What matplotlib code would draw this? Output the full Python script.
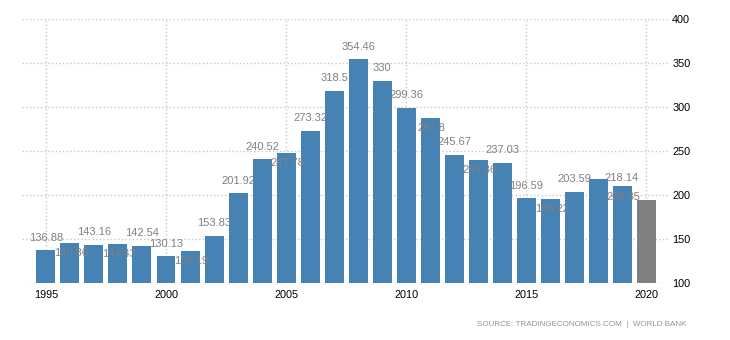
import numpy as np
import matplotlib.pyplot as plt

plt.rcParams['font.family'] = ['Liberation Sans', 'DejaVu Sans']

years = list(range(1995, 2021))
values = [136.88, 145.86, 143.16, 144.43, 142.54, 130.13, 136.19, 153.83,
          201.92, 240.52, 247.78, 273.32, 318.5, 354.46, 330, 299.36, 287.8,
          245.67, 239.86, 237.03, 196.59, 195.22, 203.59, 218.14, 209.85, 193.8]
labels = ["136.88", "145.86", "143.16", "144.43", "142.54", "130.13", "136.19",
          "153.83", "201.92", "240.52", "247.78", "273.32", "318.5", "354.46",
          "330", "299.36", "287.8", "245.67", "239.86", "237.03", "196.59",
          "195.22", "203.59", "218.14", "209.85", ""]
# where the value label sits: 'a' above the bar, 'b' just under the bar top,
# 'r' pushed to the next bar
label_pos = ['a', 'b', 'a', 'b', 'a', 'a', 'b', 'a', 'a', 'a', 'b', 'a', 'a',
             'a', 'a', 'a', 'b', 'a', 'b', 'a', 'a', 'b', 'a', 'r', 'b', '']
xticks = [1995, 2000, 2005, 2010, 2015, 2020]


def main():
    fig = plt.figure(figsize=(7.3, 3.4), dpi=100)
    ax = fig.add_axes([0.030, 0.168, 0.885, 0.775])

    colors = ['#4682b4'] * (len(years) - 1) + ['#808080']
    ax.bar(years, np.array(values) - 100, bottom=100, width=0.79, color=colors, zorder=2)

    offsets = {'a': (0, 9), 'b': (1, -7.3), 'r': (17, 0.5)}
    for yr, v, lab, pos in zip(years, values, labels, label_pos):
        if not lab:
            continue
        ax.annotate(lab, (yr, v), xytext=offsets[pos], textcoords='offset points',
                    ha='center', va='center', fontsize=8, color='#808080', zorder=3)

    ax.set_xlim(1994, 2020.9)
    ax.set_ylim(100, 400)
    ax.set_yticks(np.arange(100, 401, 50))
    ax.set_xticks(xticks)
    ax.yaxis.tick_right()
    ax.tick_params(axis='both', length=0, labelsize=7.8, colors='black')
    ax.tick_params(axis='y', pad=3)
    ax.tick_params(axis='x', pad=5)
    ax.grid(True, linestyle=':', color='#c8c8c8', linewidth=1, zorder=0)
    ax.set_axisbelow(True)
    for s in ax.spines.values():
        s.set_visible(False)

    fig.text(0.940, 0.045, "SOURCE: TRADINGECONOMICS.COM  |  WORLD BANK", ha='right',
             va='center', fontsize=5.8, color='#8a96a3')

    plt.savefig("out.png", dpi=100)


if __name__ == "__main__":
    main()
